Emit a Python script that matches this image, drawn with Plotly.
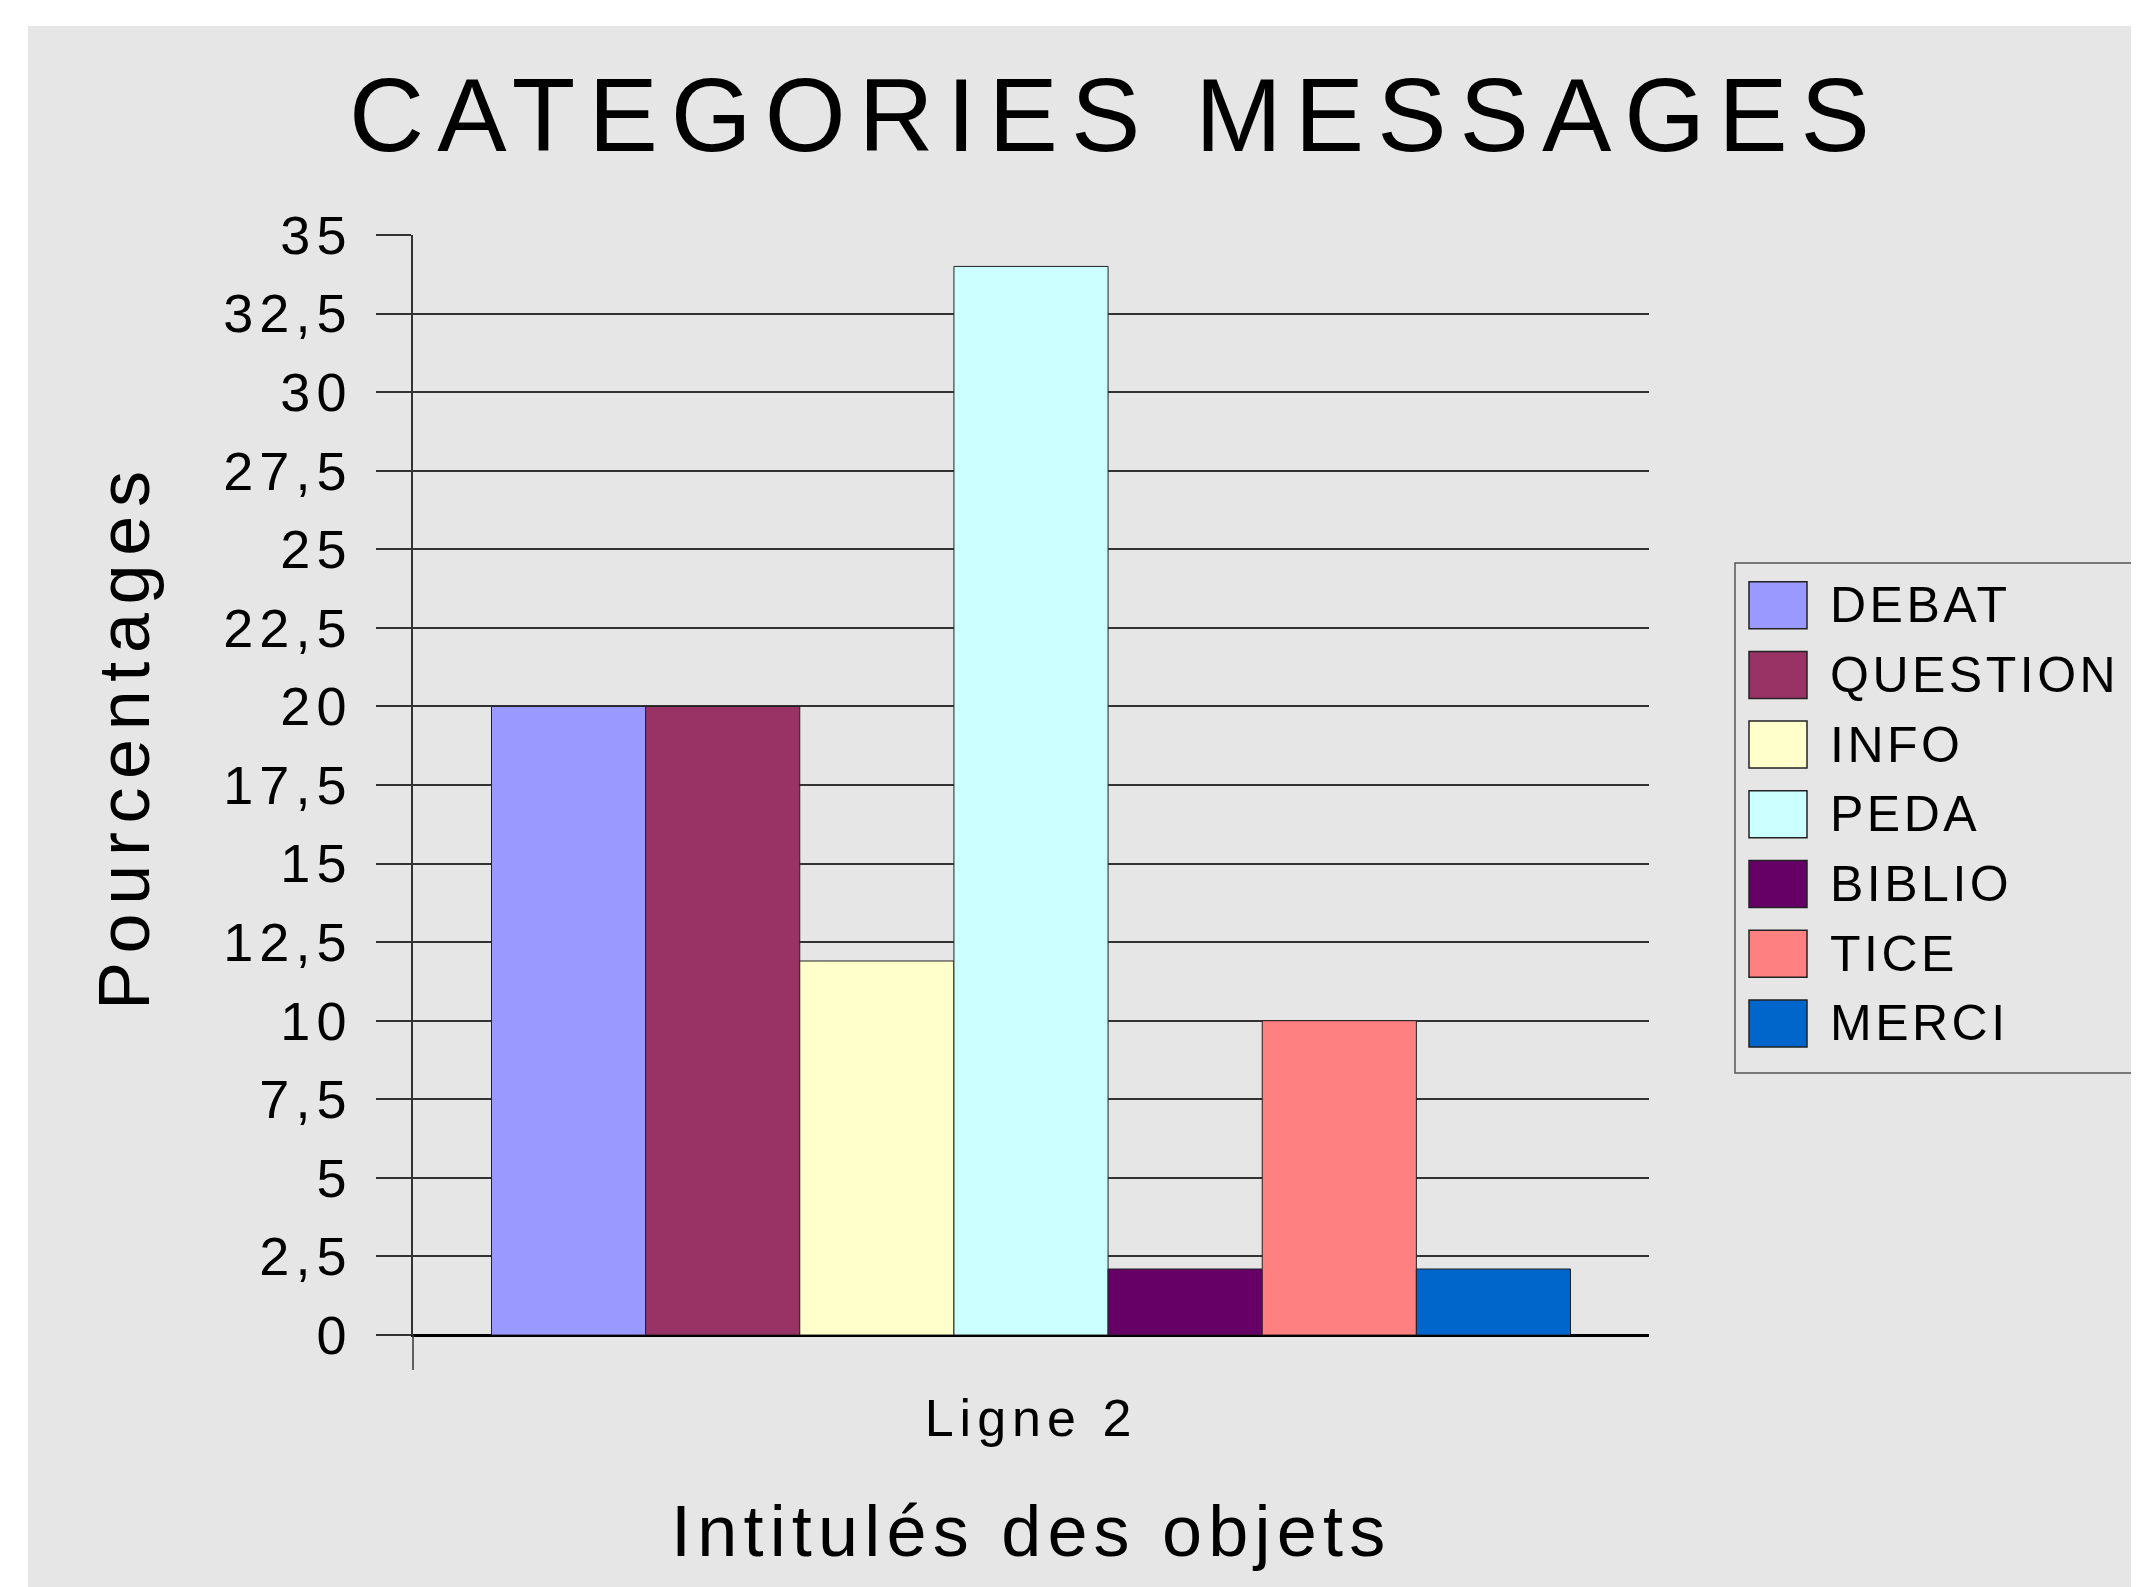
import plotly.graph_objects as go

# ---------------- data ----------------
CATEGORY = ["Ligne 2"]
SERIES = ["DEBAT", "QUESTION", "INFO", "PEDA", "BIBLIO", "TICE", "MERCI"]
VALUES = [20, 20, 11.9, 34, 2.1, 10, 2.1]
COLORS = ["#9999ff", "#993366", "#ffffcc", "#ccffff", "#660066", "#ff8080", "#0066cc"]
Y_TICKS = [0, 2.5, 5, 7.5, 10, 12.5, 15, 17.5, 20, 22.5, 25, 27.5, 30, 32.5, 35]
Y_TICK_LABELS = ["0", "2,5", "5", "7,5", "10", "12,5", "15", "17,5", "20",
                 "22,5", "25", "27,5", "30", "32,5", "35"]
TITLE = "CATEGORIES MESSAGES"
Y_TITLE = "Pourcentages"
X_TITLE = "Intitulés des objets"

# ---------------- layout geometry (screen pixels, page has 8px body margin) ----------------
W, H = 2139, 1587
OFF = 8
PLOT_X0, PLOT_X1, PLOT_Y0, PLOT_Y1 = 413, 1649, 235, 1335   # screen coords
L = PLOT_X0 - OFF
R = W - (PLOT_X1 - OFF)
T = PLOT_Y0 - OFF
B = H - (PLOT_Y1 - OFF)
PW, PH = PLOT_X1 - PLOT_X0, PLOT_Y1 - PLOT_Y0
FONT = "Liberation Sans, Arial, sans-serif"
BG = "#e6e6e6"
GRID = "#333333"


def px(x):
    return (x - PLOT_X0) / PW


def py(y):
    return (PLOT_Y1 - y) / PH


def sp(text, ls):
    return f'<span style="letter-spacing:{ls}px">{text}</span>'


fig = go.Figure()
for name, val, col in zip(SERIES, VALUES, COLORS):
    fig.add_trace(go.Bar(
        x=CATEGORY, y=[val], name=name,
        marker=dict(color=col, line=dict(color="#222222", width=1)),
        showlegend=False,
    ))

shapes = [
    # grey chart background
    dict(type="rect", xref="paper", yref="paper", layer="below",
         x0=px(28), x1=px(W + 20), y0=py(H + 20), y1=py(26),
         fillcolor=BG, line=dict(width=0)),
    # y axis extension below zero
    dict(type="line", xref="paper", yref="paper",
         x0=0, x1=0, y0=0, y1=py(1370), line=dict(color=GRID, width=1.5)),
    # legend box
    dict(type="rect", xref="paper", yref="paper",
         x0=px(1735), x1=px(W + 60), y0=py(1073), y1=py(563),
         line=dict(color="#555555", width=1.5), fillcolor="rgba(0,0,0,0)"),
]
annotations = [
    dict(text=sp(Y_TITLE, 8.6), xref="paper", yref="paper", x=px(124), y=py(736),
         textangle=-90, showarrow=False, xanchor="center", yanchor="middle",
         font=dict(family=FONT, size=72, color="black")),
    dict(text=sp(X_TITLE, 6.2), xref="paper", yref="paper", x=px(1031), y=py(1531),
         showarrow=False, xanchor="center", yanchor="middle",
         font=dict(family=FONT, size=72, color="black")),
]

# custom legend (large swatches)
LEG_TOP, LEG_STEP, SW_H = 581.7, 69.7, 47
for i, (name, col) in enumerate(zip(SERIES, COLORS)):
    top = LEG_TOP + i * LEG_STEP
    shapes.append(dict(type="rect", xref="paper", yref="paper",
                       x0=px(1749), x1=px(1807), y0=py(top + SW_H), y1=py(top),
                       fillcolor=col, line=dict(color="#222222", width=1.5)))
    annotations.append(dict(text=sp(name, 3.5), xref="paper", yref="paper",
                            x=px(1828), y=py(top + SW_H / 2), showarrow=False,
                            xanchor="left", yanchor="middle",
                            font=dict(family=FONT, size=50, color="black")))

fig.update_layout(
    width=W, height=H,
    margin=dict(l=L, r=R, t=T, b=B, autoexpand=False),
    paper_bgcolor="white", plot_bgcolor=BG,
    barmode="group", bargap=0.127, bargroupgap=0,
    font=dict(family=FONT, color="black"),
    title=dict(text=sp(TITLE, 13), xref="container", yref="container",
               x=(1116 - OFF) / W, y=1 - (115 - OFF) / H,
               xanchor="center", yanchor="middle",
               font=dict(family=FONT, size=104, color="black")),
    xaxis=dict(type="category", showgrid=False, zeroline=False,
               showline=True, linecolor="black", linewidth=2,
               ticks="", ticklabelstandoff=37,
               tickfont=dict(family=FONT, size=52, color="black"),
               tickvals=CATEGORY, ticktext=[sp(c, 6) for c in CATEGORY]),
    yaxis=dict(range=[0, 35], tickvals=Y_TICKS,
               ticktext=[sp(t, 6) for t in Y_TICK_LABELS],
               showgrid=True, gridcolor=GRID, gridwidth=1.5,
               zeroline=True, zerolinecolor="black", zerolinewidth=2,
               showline=True, linecolor=GRID, linewidth=1.5,
               ticks="outside", ticklen=35, tickwidth=1.5, tickcolor=GRID,
               ticklabelstandoff=13,
               tickfont=dict(family=FONT, size=54, color="black")),
    shapes=shapes, annotations=annotations,
    showlegend=False,
)

fig.write_html("out.html")
